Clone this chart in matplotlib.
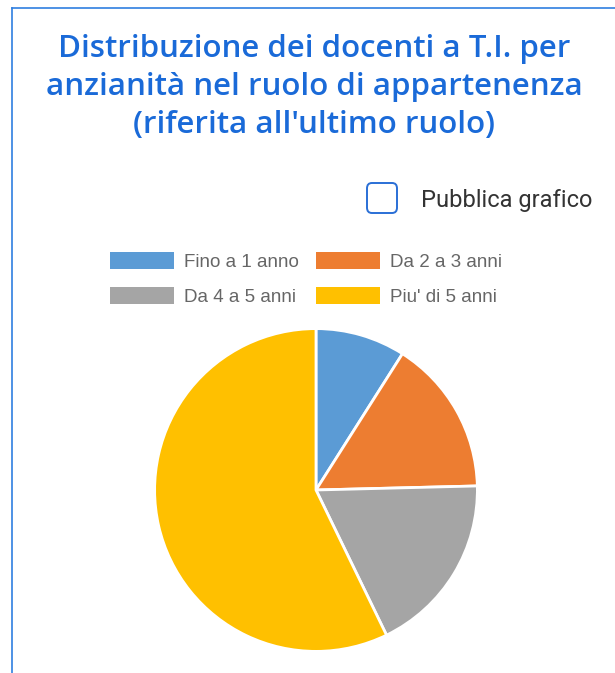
import matplotlib.pyplot as plt
from matplotlib.patches import Patch, FancyBboxPatch
from matplotlib.lines import Line2D

# data
labels = ["Fino a 1 anno", "Da 2 a 3 anni", "Da 4 a 5 anni", "Piu' di 5 anni"]
values = [9.0, 15.6, 18.2, 57.2]
colors = ["#5b9bd5", "#ed7d31", "#a5a5a5", "#ffc000"]

title_lines = ["Distribuzione dei docenti a T.I. per",
               "anzianità nel ruolo di appartenenza",
               "(riferita all'ultimo ruolo)"]

W, H = 615, 673
fig = plt.figure(figsize=(W / 100, H / 100), dpi=100)

# panel border (top and left)
fig.add_artist(Line2D([12 / W, 1], [1 - 8 / H, 1 - 8 / H], color="#2f7fe0", lw=1.2))
fig.add_artist(Line2D([12 / W, 12 / W], [0, 1 - 8 / H], color="#2f7fe0", lw=1.2))

# title
for i, line in enumerate(title_lines):
    fig.text(314 / W, 1 - (49 + 38 * i) / H, line, ha="center", va="center",
             fontsize=22.5, color="#1a6ad8", family="Open Sans", fontweight="semibold")

# checkbox
fig.add_artist(FancyBboxPatch((367 / W, 1 - 213 / H), 30 / W, 30 / H,
                              boxstyle="round,pad=0,rounding_size=0.008",
                              transform=fig.transFigure, facecolor="white",
                              edgecolor="#2a6fd6", lw=1.4))
fig.text(421 / W, 1 - 200 / H, "Pubblica grafico", ha="left", va="center",
         fontsize=17, color="#333333", family="Roboto")

# legend (matplotlib fills columns first, so reorder to get rows)
order = [0, 2, 1, 3]
handles = [Patch(facecolor=colors[i], edgecolor="none") for i in order]
fig.legend(handles, [labels[i] for i in order], ncol=2, loc="center",
           bbox_to_anchor=(306 / W, 1 - 279 / H),
           frameon=False, prop={"family": "Liberation Sans", "size": 13.5},
           labelcolor="#666666", handlelength=3.4, handleheight=1.0,
           handletextpad=0.55, columnspacing=0.9, labelspacing=0.85)

# pie
r = 163
ax = fig.add_axes([(316 - r) / W, (H - 490 - r) / H, 2 * r / W, 2 * r / H])
ax.pie(values, colors=colors, startangle=90, counterclock=False, radius=1,
       wedgeprops={"edgecolor": "white", "linewidth": 2})
ax.set_xlim(-1.01, 1.01)
ax.set_ylim(-1.01, 1.01)
ax.set_aspect("equal")
ax.axis("off")

fig.savefig("out.png", dpi=100)
